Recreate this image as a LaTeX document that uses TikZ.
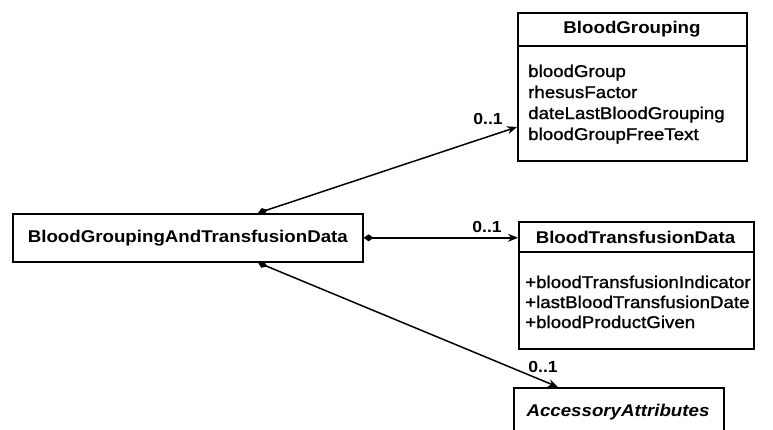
\documentclass[tikz,border=0pt]{standalone}
\usepackage{fontspec}
\setmainfont{Liberation Sans}[FakeStretch=1.1]
\newfontfamily\attrfont{Liberation Sans}[FakeStretch=1.1, FakeBold=1.2]
\usetikzlibrary{arrows.meta,calc}
\begin{document}
\begin{tikzpicture}[x=1pt,y=-1pt,
  box/.style={draw, line width=1.6pt, rectangle, inner sep=0pt, anchor=north west},
  titletext/.style={font=\fontsize{17}{20}\selectfont\bfseries, inner sep=0pt},
  attr/.style={font=\attrfont\fontsize{17}{20}\selectfont, inner sep=0pt, anchor=base west},
  mult/.style={font=\fontsize{16}{18}\selectfont\bfseries, inner sep=0pt},
  sepline/.style={line width=1.6pt},
  assoc/.style={line width=1.5pt, {Diamond[length=10pt,width=7pt]}-{Stealth[length=10pt,width=8pt]}}
]
\useasboundingbox (0,0) rectangle (773,429);
\fill[white] (0,0) rectangle (773,429);
\clip (0,0) rectangle (773,429);

% BloodGrouping
\node[box, minimum width=229pt, minimum height=148pt] (bg) at (517,12) {};
\draw[sepline] ($(bg.north west)+(0,34)$) -- ($(bg.north east)+(0,34)$);
\node[titletext] (bgt) at (632,29) {BloodGrouping};
\node[attr] (bga1) at (528,77) {bloodGroup};
\node[attr] (bga2) at (528,98) {rhesusFactor};
\node[attr] (bga3) at (528,119) {dateLastBloodGrouping};
\node[attr] (bga4) at (528,140) {bloodGroupFreeText};

% main
\node[box, minimum width=350pt, minimum height=48pt, titletext, anchor=north west] (main) at (12,213) {BloodGroupingAndTransfusionData};

% BloodTransfusionData
\node[box, minimum width=235pt, minimum height=127pt] (btd) at (518,221) {};
\draw[sepline] ($(btd.north west)+(0,31)$) -- ($(btd.north east)+(0,31)$);
\node[titletext] (btdt) at (635.5,237) {BloodTransfusionData};
\node[attr] (btda1) at (525,288) {+bloodTransfusionIndicator};
\node[attr] (btda2) at (525,308) {+lastBloodTransfusionDate};
\node[attr] (btda3) at (525,328) {+bloodProductGiven};

% AccessoryAttributes
\node[box, minimum width=210pt, minimum height=60pt] (acc) at (513,387) {};
\node[titletext, font=\fontsize{17}{20}\selectfont\bfseries\itshape] (acct) at (618,412) {AccessoryAttributes};

% connectors
\coordinate (c1s) at ($(main.north west)+(246,0)$);
\coordinate (c1e) at ($(bg.north west)+(0,115)$);
\draw[assoc] (c1s) -- (c1e);
\node[mult] (m1) at (488,119) {0..1};

\coordinate (c2e) at (main.east -| btd.west);
\draw[assoc] (main.east) -- (c2e);
\node[mult] (m2) at (487,227) {0..1};

\coordinate (c3s) at ($(main.south west)+(246,0)$);
\coordinate (c3e) at ($(acc.north west)+(45,0)$);
\draw[assoc] (c3s) -- (c3e);
\node[mult] (m3) at (543,367) {0..1};
\end{tikzpicture}
\end{document}
